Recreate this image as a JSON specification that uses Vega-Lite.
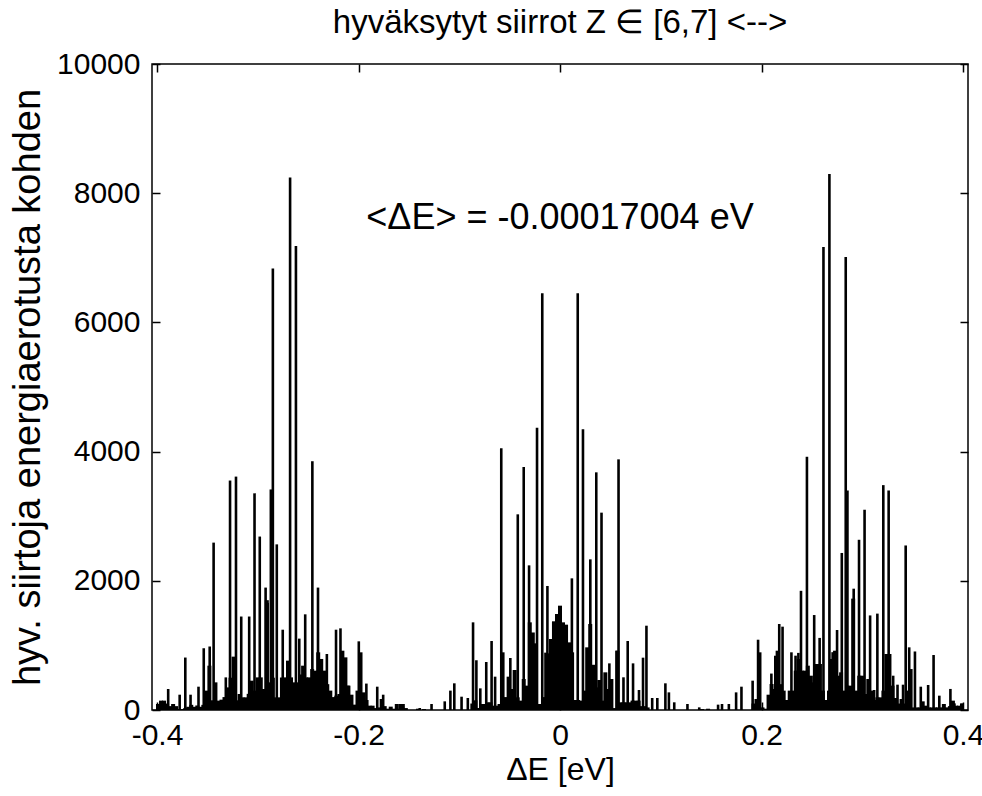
{
  "$schema": "https://vega.github.io/schema/vega-lite/v6.json",
  "width": 816,
  "height": 646,
  "autosize": {"type": "none"},
  "padding": {"left": 152, "top": 64, "right": 14, "bottom": 86},
  "background": "white",
  "config": {
    "view": {"stroke": "black", "strokeWidth": 1.5},
    "font": "Liberation Sans",
    "axis": {
      "domain": false,
      "grid": false,
      "ticks": true,
      "tickColor": "black",
      "tickWidth": 1.5,
      "tickSize": -8,
      "labelFont": "Liberation Sans",
      "labelFontSize": 30,
      "labelColor": "black",
      "titleFont": "Liberation Sans",
      "titleFontWeight": "normal",
      "titleColor": "black"
    }
  },
  "title": {
    "text": "hyväksytyt siirrot Z ∈ [6,7] <-->",
    "font": "Liberation Sans Narrow, Liberation Sans",
    "fontSize": 33,
    "fontWeight": "normal",
    "color": "black",
    "frame": "group",
    "anchor": "middle",
    "offset": 9
  },
  "datasets": {
    "bg": [
      {"x": -0.399, "y": 93}, {"x": -0.396, "y": 145}, {"x": -0.393, "y": 145}, {"x": -0.39, "y": 100},
      {"x": -0.387, "y": 60}, {"x": -0.384, "y": 93}, {"x": -0.381, "y": 60}, {"x": -0.378, "y": 15},
      {"x": -0.375, "y": 15}, {"x": -0.372, "y": 30}, {"x": -0.369, "y": 50}, {"x": -0.366, "y": 80},
      {"x": -0.363, "y": 50}, {"x": -0.36, "y": 70}, {"x": -0.357, "y": 50}, {"x": -0.354, "y": 80},
      {"x": -0.351, "y": 300}, {"x": -0.348, "y": 686}, {"x": -0.345, "y": 150}, {"x": -0.342, "y": 428},
      {"x": -0.339, "y": 145}, {"x": -0.336, "y": 160}, {"x": -0.333, "y": 200}, {"x": -0.33, "y": 350},
      {"x": -0.327, "y": 500}, {"x": -0.324, "y": 826}, {"x": -0.321, "y": 150}, {"x": -0.318, "y": 248},
      {"x": -0.315, "y": 196}, {"x": -0.312, "y": 196}, {"x": -0.309, "y": 250}, {"x": -0.306, "y": 454},
      {"x": -0.303, "y": 300}, {"x": -0.3, "y": 505}, {"x": -0.297, "y": 505}, {"x": -0.294, "y": 325},
      {"x": -0.291, "y": 1700}, {"x": -0.288, "y": 428}, {"x": -0.285, "y": 500}, {"x": -0.282, "y": 196},
      {"x": -0.279, "y": 196}, {"x": -0.276, "y": 505}, {"x": -0.273, "y": 505}, {"x": -0.27, "y": 764},
      {"x": -0.267, "y": 505}, {"x": -0.264, "y": 428}, {"x": -0.261, "y": 428}, {"x": -0.258, "y": 550},
      {"x": -0.255, "y": 686}, {"x": -0.252, "y": 505}, {"x": -0.249, "y": 505}, {"x": -0.246, "y": 634},
      {"x": -0.243, "y": 609}, {"x": -0.24, "y": 893}, {"x": -0.237, "y": 790}, {"x": -0.234, "y": 609},
      {"x": -0.231, "y": 400}, {"x": -0.228, "y": 300}, {"x": -0.225, "y": 200}, {"x": -0.222, "y": 222},
      {"x": -0.219, "y": 248}, {"x": -0.216, "y": 918}, {"x": -0.213, "y": 815}, {"x": -0.21, "y": 377},
      {"x": -0.207, "y": 237}, {"x": -0.204, "y": 83}, {"x": -0.201, "y": 300}, {"x": -0.198, "y": 893},
      {"x": -0.195, "y": 273}, {"x": -0.192, "y": 155}, {"x": -0.189, "y": 67}, {"x": -0.186, "y": 67},
      {"x": -0.183, "y": 30}, {"x": -0.18, "y": 40}, {"x": -0.177, "y": 170}, {"x": -0.174, "y": 60},
      {"x": -0.171, "y": 20}, {"x": -0.168, "y": 52}, {"x": -0.165, "y": 20}, {"x": -0.162, "y": 93},
      {"x": -0.159, "y": 20}, {"x": -0.156, "y": 93}, {"x": -0.153, "y": 30}, {"x": -0.141, "y": 20},
      {"x": -0.135, "y": 15},
      {"x": -0.087, "y": 100}, {"x": -0.084, "y": 150}, {"x": -0.081, "y": 31}, {"x": -0.078, "y": 93},
      {"x": -0.075, "y": 93}, {"x": -0.072, "y": 119}, {"x": -0.069, "y": 119}, {"x": -0.066, "y": 67},
      {"x": -0.063, "y": 67}, {"x": -0.06, "y": 93}, {"x": -0.057, "y": 893}, {"x": -0.054, "y": 200},
      {"x": -0.051, "y": 516}, {"x": -0.048, "y": 325}, {"x": -0.045, "y": 619}, {"x": -0.042, "y": 196},
      {"x": -0.039, "y": 145}, {"x": -0.036, "y": 480}, {"x": -0.033, "y": 377}, {"x": -0.03, "y": 1357},
      {"x": -0.027, "y": 1200}, {"x": -0.024, "y": 1032}, {"x": -0.021, "y": 93}, {"x": -0.018, "y": 93},
      {"x": -0.015, "y": 200}, {"x": -0.012, "y": 877}, {"x": -0.009, "y": 1099}, {"x": -0.006, "y": 1373},
      {"x": -0.003, "y": 1486}, {"x": 0.0, "y": 1615}, {"x": 0.003, "y": 1357}, {"x": 0.006, "y": 1321},
      {"x": 0.009, "y": 1047}, {"x": 0.012, "y": 893}, {"x": 0.015, "y": 155}, {"x": 0.018, "y": 155},
      {"x": 0.021, "y": 145}, {"x": 0.024, "y": 300}, {"x": 0.027, "y": 970}, {"x": 0.03, "y": 1331},
      {"x": 0.033, "y": 700}, {"x": 0.036, "y": 350}, {"x": 0.039, "y": 464}, {"x": 0.042, "y": 145},
      {"x": 0.045, "y": 583}, {"x": 0.048, "y": 325}, {"x": 0.051, "y": 480}, {"x": 0.054, "y": 30},
      {"x": 0.057, "y": 918}, {"x": 0.06, "y": 119}, {"x": 0.063, "y": 119}, {"x": 0.066, "y": 119},
      {"x": 0.069, "y": 119}, {"x": 0.072, "y": 145}, {"x": 0.075, "y": 145}, {"x": 0.078, "y": 145},
      {"x": 0.081, "y": 60}, {"x": 0.084, "y": 60}, {"x": 0.087, "y": 40},
      {"x": 0.141, "y": 15}, {"x": 0.147, "y": 20},
      {"x": 0.192, "y": 100}, {"x": 0.195, "y": 170}, {"x": 0.198, "y": 893}, {"x": 0.201, "y": 40},
      {"x": 0.204, "y": 20}, {"x": 0.207, "y": 237}, {"x": 0.21, "y": 402}, {"x": 0.213, "y": 325},
      {"x": 0.216, "y": 918}, {"x": 0.219, "y": 400}, {"x": 0.222, "y": 300}, {"x": 0.225, "y": 155},
      {"x": 0.228, "y": 300}, {"x": 0.231, "y": 300}, {"x": 0.234, "y": 609}, {"x": 0.237, "y": 790},
      {"x": 0.24, "y": 609}, {"x": 0.243, "y": 609}, {"x": 0.246, "y": 686}, {"x": 0.249, "y": 531},
      {"x": 0.252, "y": 428}, {"x": 0.255, "y": 712}, {"x": 0.258, "y": 712}, {"x": 0.261, "y": 300},
      {"x": 0.264, "y": 155}, {"x": 0.267, "y": 300}, {"x": 0.27, "y": 790}, {"x": 0.273, "y": 918},
      {"x": 0.276, "y": 531}, {"x": 0.279, "y": 583}, {"x": 0.282, "y": 300}, {"x": 0.285, "y": 377},
      {"x": 0.288, "y": 377}, {"x": 0.291, "y": 1724}, {"x": 0.294, "y": 300}, {"x": 0.297, "y": 531},
      {"x": 0.3, "y": 531}, {"x": 0.303, "y": 248}, {"x": 0.306, "y": 480}, {"x": 0.309, "y": 300},
      {"x": 0.312, "y": 155}, {"x": 0.315, "y": 196}, {"x": 0.318, "y": 196}, {"x": 0.321, "y": 300},
      {"x": 0.324, "y": 867}, {"x": 0.327, "y": 867}, {"x": 0.33, "y": 377}, {"x": 0.333, "y": 186},
      {"x": 0.336, "y": 100}, {"x": 0.339, "y": 170}, {"x": 0.342, "y": 100}, {"x": 0.345, "y": 300},
      {"x": 0.348, "y": 634}, {"x": 0.351, "y": 40}, {"x": 0.354, "y": 40}, {"x": 0.357, "y": 40},
      {"x": 0.36, "y": 134}, {"x": 0.363, "y": 67}, {"x": 0.366, "y": 40}, {"x": 0.369, "y": 40},
      {"x": 0.372, "y": 40}, {"x": 0.375, "y": 41}, {"x": 0.378, "y": 41}, {"x": 0.381, "y": 93},
      {"x": 0.384, "y": 41}, {"x": 0.387, "y": 60}, {"x": 0.39, "y": 145}, {"x": 0.393, "y": 67},
      {"x": 0.396, "y": 67}, {"x": 0.399, "y": 100}
    ],
    "spk": [
      {"x": -0.3889, "y": 325}, {"x": -0.3775, "y": 237}, {"x": -0.3719, "y": 812}, {"x": -0.3667, "y": 237},
      {"x": -0.3588, "y": 361}, {"x": -0.3536, "y": 956}, {"x": -0.3477, "y": 983}, {"x": -0.3438, "y": 2591},
      {"x": -0.3317, "y": 505}, {"x": -0.3275, "y": 3552}, {"x": -0.3216, "y": 3613}, {"x": -0.3164, "y": 1447},
      {"x": -0.3085, "y": 1447}, {"x": -0.3032, "y": 3354}, {"x": -0.298, "y": 2685}, {"x": -0.2922, "y": 1895},
      {"x": -0.2902, "y": 1657}, {"x": -0.287, "y": 3414}, {"x": -0.285, "y": 6834}, {"x": -0.2811, "y": 2564},
      {"x": -0.2752, "y": 1243}, {"x": -0.2679, "y": 8243}, {"x": -0.2621, "y": 7182}, {"x": -0.2588, "y": 1105},
      {"x": -0.2529, "y": 1481}, {"x": -0.2458, "y": 3851}, {"x": -0.2402, "y": 1895}, {"x": -0.2314, "y": 867},
      {"x": -0.2223, "y": 1243}, {"x": -0.2179, "y": 1264}, {"x": -0.2101, "y": 377}, {"x": -0.1997, "y": 1063},
      {"x": -0.1922, "y": 409}, {"x": -0.1814, "y": 361}, {"x": -0.1755, "y": 237}, {"x": -0.1588, "y": 93},
      {"x": -0.1559, "y": 60}, {"x": -0.1392, "y": 31}, {"x": -0.1275, "y": 93}, {"x": -0.1144, "y": 134},
      {"x": -0.1088, "y": 300}, {"x": -0.1049, "y": 413}, {"x": -0.0977, "y": 206}, {"x": -0.0915, "y": 186},
      {"x": -0.0863, "y": 1357}, {"x": -0.083, "y": 770}, {"x": -0.0791, "y": 335}, {"x": -0.0732, "y": 743},
      {"x": -0.0679, "y": 1068}, {"x": -0.0644, "y": 516}, {"x": -0.0583, "y": 4051}, {"x": -0.0493, "y": 805},
      {"x": -0.0419, "y": 3029}, {"x": -0.036, "y": 3762}, {"x": -0.0307, "y": 2239}, {"x": -0.0228, "y": 4371},
      {"x": -0.0176, "y": 6450}, {"x": -0.0144, "y": 888}, {"x": -0.0125, "y": 1920}, {"x": 0.0118, "y": 2038},
      {"x": 0.0176, "y": 6450}, {"x": 0.0228, "y": 4345}, {"x": 0.0301, "y": 2332}, {"x": 0.036, "y": 3679},
      {"x": 0.0412, "y": 3055}, {"x": 0.049, "y": 722}, {"x": 0.0562, "y": 918}, {"x": 0.0581, "y": 3880},
      {"x": 0.063, "y": 506}, {"x": 0.0672, "y": 1068}, {"x": 0.0725, "y": 722}, {"x": 0.0784, "y": 310},
      {"x": 0.0824, "y": 810}, {"x": 0.0858, "y": 1305}, {"x": 0.0915, "y": 186}, {"x": 0.0966, "y": 186},
      {"x": 0.1046, "y": 413}, {"x": 0.1081, "y": 273}, {"x": 0.1134, "y": 119}, {"x": 0.1265, "y": 93},
      {"x": 0.1382, "y": 41}, {"x": 0.1569, "y": 83}, {"x": 0.1608, "y": 93}, {"x": 0.1676, "y": 93},
      {"x": 0.1748, "y": 273}, {"x": 0.1801, "y": 361}, {"x": 0.1912, "y": 454}, {"x": 0.1966, "y": 1088},
      {"x": 0.2098, "y": 564}, {"x": 0.2137, "y": 840}, {"x": 0.2176, "y": 1331}, {"x": 0.2209, "y": 1290},
      {"x": 0.2297, "y": 893}, {"x": 0.2338, "y": 841}, {"x": 0.2366, "y": 884}, {"x": 0.2392, "y": 1845},
      {"x": 0.2451, "y": 3920}, {"x": 0.2523, "y": 1470}, {"x": 0.2577, "y": 1116}, {"x": 0.2615, "y": 7166},
      {"x": 0.2674, "y": 8298}, {"x": 0.2706, "y": 895}, {"x": 0.275, "y": 1238}, {"x": 0.2797, "y": 2431},
      {"x": 0.2836, "y": 7011}, {"x": 0.2853, "y": 3398}, {"x": 0.2915, "y": 1878}, {"x": 0.2968, "y": 2635},
      {"x": 0.3023, "y": 3100}, {"x": 0.3078, "y": 1464}, {"x": 0.3118, "y": 310}, {"x": 0.315, "y": 1492},
      {"x": 0.3209, "y": 3481}, {"x": 0.3262, "y": 3398}, {"x": 0.3307, "y": 531}, {"x": 0.335, "y": 392},
      {"x": 0.3405, "y": 392}, {"x": 0.3431, "y": 2547}, {"x": 0.3466, "y": 970}, {"x": 0.3523, "y": 906},
      {"x": 0.3581, "y": 361}, {"x": 0.3654, "y": 387}, {"x": 0.3708, "y": 851}, {"x": 0.3765, "y": 222},
      {"x": 0.3875, "y": 326}, {"x": 0.3915, "y": 103}, {"x": 0.3987, "y": 100}
    ],
    "note": [
      {"x": 0, "y": 7620, "label": "<ΔE> = -0.00017004 eV"}
    ]
  },
  "layer": [
    {
      "data": {"name": "bg"},
      "mark": {"type": "bar", "orient": "vertical", "size": 4, "color": "black", "clip": true},
      "encoding": {
        "x": {
          "field": "x", "type": "quantitative",
          "scale": {"domain": [-0.4, 0.4], "nice": false, "zero": false},
          "axis": {
            "orient": "bottom",
            "values": [-0.4, -0.2, 0, 0.2, 0.4],
            "labelExpr": "'' + datum.value",
            "labelPadding": 18,
            "title": "ΔE [eV]",
            "titleFontSize": 32,
            "titlePadding": 4
          }
        },
        "y": {
          "field": "y", "type": "quantitative", "stack": null,
          "scale": {"domain": [0, 10000], "nice": false},
          "axis": {
            "orient": "left",
            "values": [0, 2000, 4000, 6000, 8000, 10000],
            "format": "d",
            "labelPadding": 20,
            "title": "hyv. siirtoja energiaerotusta kohden",
            "titleFontSize": 38,
            "titlePadding": 9
          }
        }
      }
    },
    {
      "data": {"name": "spk"},
      "mark": {"type": "bar", "orient": "vertical", "size": 2.6, "color": "black", "clip": true},
      "encoding": {
        "x": {
          "field": "x", "type": "quantitative",
          "scale": {"domain": [-0.4, 0.4], "nice": false, "zero": false},
          "axis": {"orient": "top", "values": [-0.4, -0.2, 0, 0.2, 0.4], "labels": false, "title": null}
        },
        "y": {
          "field": "y", "type": "quantitative", "stack": null,
          "scale": {"domain": [0, 10000], "nice": false},
          "axis": {"orient": "right", "values": [0, 2000, 4000, 6000, 8000, 10000], "labels": false, "title": null}
        }
      }
    },
    {
      "data": {"name": "note"},
      "mark": {"type": "text", "font": "Liberation Sans", "fontSize": 36, "color": "black", "align": "center", "baseline": "middle"},
      "encoding": {
        "x": {"field": "x", "type": "quantitative", "scale": {"domain": [-0.4, 0.4], "nice": false, "zero": false}, "axis": null},
        "y": {"field": "y", "type": "quantitative", "scale": {"domain": [0, 10000], "nice": false}, "axis": null},
        "text": {"field": "label", "type": "nominal"}
      }
    }
  ],
  "resolve": {"axis": {"x": "independent", "y": "independent"}}
}
